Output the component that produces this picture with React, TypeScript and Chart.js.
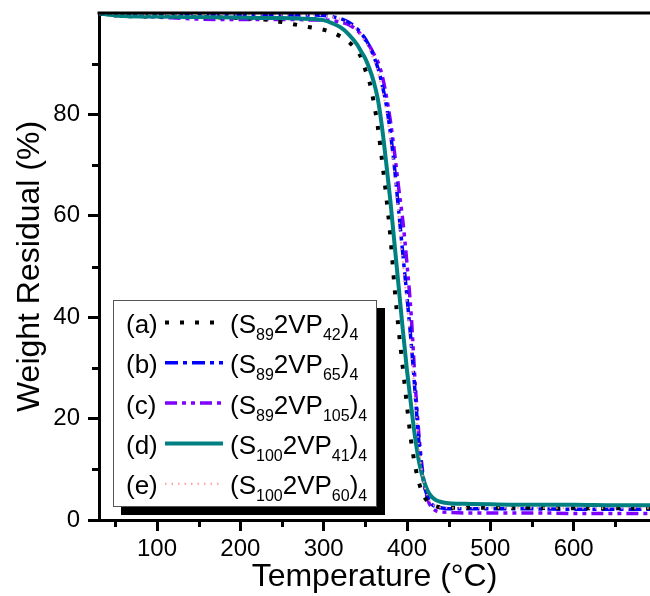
import React, { useEffect, useRef } from 'react';
import { Chart, registerables } from 'chart.js';

Chart.register(...registerables);

const FONT = '"Liberation Sans", Arial, Helvetica, sans-serif';

// Temperature grid (°C)
const temperatures = [30, 60, 100, 150, 200, 230, 250, 270, 290, 300, 310, 320, 330, 340, 345, 350, 355, 360, 365, 370, 375, 380, 385, 390, 395, 400, 405, 410, 415, 420, 425, 430, 435, 440, 450, 470, 500, 550, 600, 650, 692];

// Weight residual (%) for each sample
const weightA = [99.9, 99.4, 99.3, 99.2, 99.0, 98.7, 98.2, 97.6, 97.0, 96.7, 96.2, 95.4, 94.3, 92.6, 91.2, 88.8, 86.4, 82.5, 77.5, 71.0, 64.0, 56.0, 46.0, 37.5, 30.0, 22.5, 15.5, 10.5, 7.0, 4.8, 3.6, 3.0, 2.7, 2.5, 2.4, 2.4, 2.4, 2.4, 2.3, 2.3, 2.3];
const weightB = [99.9, 99.7, 99.6, 99.6, 99.6, 99.6, 99.6, 99.6, 99.6, 99.5, 99.3, 98.9, 98.2, 96.9, 96.0, 94.9, 93.4, 91.5, 89.2, 86.0, 82.0, 76.5, 69.5, 61.0, 52.5, 44.0, 35.0, 24.5, 14.0, 7.5, 4.5, 3.1, 2.6, 2.4, 2.2, 2.2, 2.2, 2.2, 2.1, 2.1, 2.1];
const weightC = [99.9, 99.5, 99.2, 98.8, 98.7, 98.7, 98.7, 98.7, 98.6, 98.6, 98.5, 98.2, 97.7, 96.6, 95.7, 94.7, 93.5, 92.0, 90.4, 87.8, 83.8, 78.8, 72.5, 65.5, 59.0, 50.5, 40.5, 26.5, 15.5, 8.0, 4.0, 2.4, 1.8, 1.6, 1.5, 1.4, 1.4, 1.4, 1.3, 1.3, 1.3];
const weightD = [99.9, 99.4, 99.3, 99.2, 99.1, 99.0, 99.0, 98.9, 98.8, 98.6, 98.0, 97.2, 95.8, 93.8, 92.4, 91.0, 89.0, 86.5, 83.0, 77.5, 70.5, 63.0, 54.5, 46.0, 37.5, 29.5, 22.5, 16.0, 11.0, 7.8, 5.7, 4.5, 3.9, 3.6, 3.3, 3.2, 3.1, 3.0, 3.0, 2.9, 2.9];
const weightE = [99.9, 99.8, 99.7, 99.7, 99.7, 99.7, 99.7, 99.7, 99.6, 99.5, 99.2, 98.8, 98.0, 96.6, 95.6, 94.4, 92.8, 90.8, 88.4, 85.0, 80.8, 75.0, 68.0, 59.5, 51.0, 42.5, 33.5, 23.5, 13.5, 7.5, 4.5, 3.2, 2.7, 2.5, 2.4, 2.4, 2.4, 2.4, 2.3, 2.3, 2.3];

const seriesLetters = ['(a)', '(b)', '(c)', '(d)', '(e)'];
const seriesS = ['89', '89', '89', '100', '100'];
const seriesVP = ['42', '65', '105', '41', '60'];

const xMajorTicks = [100, 200, 300, 400, 500, 600];
const xMinorTicks = [50, 150, 250, 350, 450, 550, 650];
const yMajorTicks = [0, 20, 40, 60, 80];
const yMinorTicks = [10, 30, 50, 70, 90];

const xTitle = 'Temperature (°C)';
const yTitle = 'Weight Residual (%)';

const seriesStyles = [
  { color: '#000000', width: 4, dash: [4, 11], order: 1 },
  { color: '#0000ff', width: 3.5, dash: [13, 5, 4, 5], order: 2 },
  { color: '#7f00ff', width: 3.5, dash: [12, 5, 4, 5, 4, 5], order: 3 },
  { color: '#008080', width: 4, dash: [], order: 0 },
  { color: '#ff9c9c', width: 2, dash: [1.5, 5], order: -1 },
];

const allWeights = [weightA, weightB, weightC, weightD, weightE];

const overlayPlugin = {
  id: 'overlayPlugin',
  afterDatasetsDraw(chart: any) {
    const { ctx, chartArea } = chart;
    const xs = chart.scales.x;
    const ys = chart.scales.y;
    ctx.save();
    ctx.strokeStyle = '#000';
    ctx.lineWidth = 3;
    ctx.lineCap = 'butt';
    // top frame
    ctx.beginPath();
    ctx.moveTo(chartArea.left - 1.5, chartArea.top);
    ctx.lineTo(chartArea.right, chartArea.top);
    ctx.stroke();
    // minor ticks
    xMinorTicks.forEach((v) => {
      const px = Math.round(xs.getPixelForValue(v)) + 0.5;
      if (px < chartArea.left || px > chartArea.right) return;
      ctx.beginPath();
      ctx.moveTo(px, chartArea.bottom);
      ctx.lineTo(px, chartArea.bottom + 7);
      ctx.stroke();
    });
    yMinorTicks.forEach((v) => {
      const py = Math.round(ys.getPixelForValue(v)) + 0.5;
      ctx.beginPath();
      ctx.moveTo(chartArea.left, py);
      ctx.lineTo(chartArea.left - 7, py);
      ctx.stroke();
    });

    // legend
    const bx = chartArea.left + 14;
    const by = 300;
    const bw = 264;
    const bh = 207;
    ctx.fillStyle = '#000';
    ctx.fillRect(bx + 8, by + 8, bw, bh);
    ctx.fillStyle = '#fff';
    ctx.fillRect(bx, by, bw, bh);
    ctx.strokeStyle = '#555';
    ctx.lineWidth = 1;
    ctx.strokeRect(bx + 0.5, by + 0.5, bw - 1, bh - 1);

    const mainFont = `26px ${FONT}`;
    const subFont = `16px ${FONT}`;
    ctx.textBaseline = 'alphabetic';
    ctx.textAlign = 'left';
    chart.data.datasets.forEach((ds: any, i: number) => {
      const cy = by + 24 + i * 40.3;
      const base = cy + 9;
      ctx.fillStyle = '#000';
      ctx.font = mainFont;
      ctx.fillText(seriesLetters[i], bx + 13, base);
      // sample line
      ctx.save();
      ctx.strokeStyle = ds.borderColor;
      ctx.lineWidth = ds.borderWidth;
      ctx.setLineDash(ds.borderDash || []);
      ctx.beginPath();
      ctx.moveTo(bx + 52, cy - 1.5);
      ctx.lineTo(bx + 110, cy - 1.5);
      ctx.stroke();
      ctx.restore();
      // formula with subscripts
      const parts: [string, boolean][] = [
        ['(S', false], [seriesS[i], true], ['2VP', false], [seriesVP[i], true], [')', false], ['4', true],
      ];
      let x = bx + 117;
      parts.forEach(([t, sub]) => {
        ctx.font = sub ? subFont : mainFont;
        ctx.fillText(t, x, sub ? base + 7 : base);
        x += ctx.measureText(t).width;
      });
    });
    ctx.restore();
  },
};

export default function App() {
  const canvasRef = useRef<HTMLCanvasElement | null>(null);

  useEffect(() => {
    const canvas = canvasRef.current;
    if (!canvas) return;
    const datasets = allWeights.map((w, i) => ({
      label: seriesLetters[i],
      data: temperatures.map((t, k) => ({ x: t, y: w[k] })),
      borderColor: seriesStyles[i].color,
      borderWidth: seriesStyles[i].width,
      borderDash: seriesStyles[i].dash,
      order: seriesStyles[i].order,
      pointRadius: 0,
      fill: false,
      cubicInterpolationMode: 'monotone' as const,
    }));

    const chart = new Chart(canvas, {
      type: 'line',
      data: { datasets },
      plugins: [overlayPlugin],
      options: {
        responsive: false,
        animation: false,
        devicePixelRatio: 1,
        layout: { padding: { top: 13, right: 0, left: 0, bottom: 0 } },
        plugins: { legend: { display: false }, tooltip: { enabled: false }, title: { display: false } },
        scales: {
          x: {
            type: 'linear',
            min: 30.4,
            max: 691.6,
            afterBuildTicks: (s: any) => { s.ticks = xMajorTicks.map((v) => ({ value: v })); },
            afterFit: (s: any) => { s.height = 76; s.paddingLeft = 0; s.paddingRight = 0; },
            grid: { display: true, drawOnChartArea: false, drawTicks: true, tickLength: 11, tickWidth: 3, tickColor: '#000' },
            border: { display: true, color: '#000', width: 3 },
            ticks: { font: { family: FONT, size: 24 }, color: '#000', padding: 4, maxRotation: 0, autoSkip: false },
            title: { display: true, text: xTitle, font: { family: FONT, size: 32 }, color: '#000', padding: { top: 0, bottom: 0 } },
          },
          y: {
            type: 'linear',
            min: 0,
            max: 100,
            afterBuildTicks: (s: any) => { s.ticks = yMajorTicks.map((v) => ({ value: v })); },
            afterFit: (s: any) => { s.width = 99; s.paddingTop = 0; s.paddingBottom = 0; },
            grid: { display: true, drawOnChartArea: false, drawTicks: true, tickLength: 11, tickWidth: 3, tickColor: '#000' },
            border: { display: true, color: '#000', width: 3 },
            ticks: { font: { family: FONT, size: 24 }, color: '#000', padding: 8, autoSkip: false },
            title: { display: true, text: yTitle, font: { family: FONT, size: 32 }, color: '#000', padding: { top: 11, bottom: 0 } },
          },
        },
      },
    });
    return () => chart.destroy();
  }, []);

  return (
    <div style={{ position: 'absolute', left: 0, top: 0, width: 650, height: 596, background: '#fff' }}>
      <canvas ref={canvasRef} width={650} height={596} style={{ display: 'block' }} />
    </div>
  );
}
